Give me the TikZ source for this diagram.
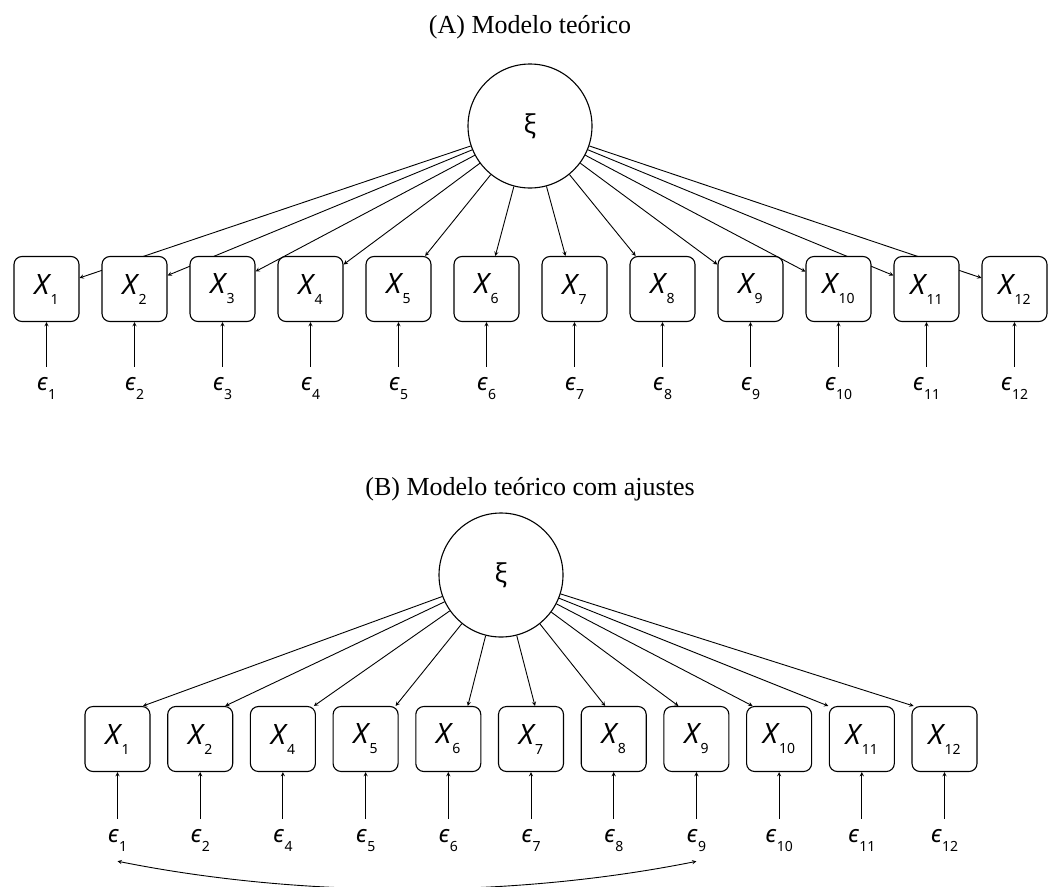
\documentclass[tikz,border=0pt]{standalone}
\usepackage{fontspec}
\setmainfont{Liberation Serif}
\newfontfamily\semfont{Noto Sans}
\usetikzlibrary{backgrounds}
\newcommand{\obsvar}[1]{{\semfont\fontsize{28}{30}\selectfont\itshape X\kern1.5pt\raisebox{-10pt}{\upshape\fontsize{14}{16}\selectfont #1}}}
\newcommand{\errvar}[1]{{\semfont\fontsize{24}{26}\selectfont\itshape ϵ\kern0.5pt\raisebox{-9pt}{\upshape\fontsize{14}{16}\selectfont #1}}}
\begin{document}
\begin{tikzpicture}[x=1pt,y=-1pt,>=stealth]
\tikzstyle{latent} = [circle, draw, line width=1.1pt, minimum size=124pt, inner sep=0pt, fill=white]
\tikzstyle{obs} = [rectangle, rounded corners=8pt, draw, line width=1.1pt, minimum width=65pt, minimum height=65pt, inner sep=0pt, fill=white]
\tikzstyle{err} = [inner xsep=1pt, inner ysep=10pt, anchor=base]
\tikzstyle{title} = [font=\fontsize{26}{30}\selectfont, anchor=base]
\tikzstyle{load} = [->, line width=0.9pt]
\useasboundingbox (0,0) rectangle (1054,886);
\clip (0,0) rectangle (1054,886);
% (A) modelo teorico
\node (titA)[title] at (530,33) {(A) Modelo teórico};
\node (xiA)[latent] at (530,126) {\semfont\fontsize{26}{28}\selectfont ξ};
\foreach \i in {1,...,12} {
  \node (A\i)[obs] at ({46.5+88*(\i-1)},289) {\obsvar{\i}};
  \node (eA\i)[err] at ({46.5+88*(\i-1)},390) {\errvar{\i}};
  \draw [load] (eA\i) -- (A\i);
}
\begin{pgfonlayer}{background}
\foreach \i in {1,...,12} \draw [load] (xiA) -- (A\i);
\end{pgfonlayer}
% (B) com ajustes
\node (titB)[title] at (530,495) {(B) Modelo teórico com ajustes};
\node (xiB)[latent] at (501,575) {\semfont\fontsize{26}{28}\selectfont ξ};
\foreach \i/\d [count=\k from 0] in {1/25.5,2/25,4/31,5/30,6/19.5,7/4,8/-8.5,9/-18,10/-26.5,11/-33.5,12/-31} {
  \node (B\i)[obs] at ({117.5+82.7*\k},739) {\obsvar{\i}};
  \node (eB\i)[err] at ({117.5+82.7*\k},842) {\errvar{\i}};
  \draw [load] (eB\i) -- (B\i);
  \draw [load] (xiB) -- ([xshift=\d pt]B\i.north);
}
\draw [<->, line width=0.9pt] (eB1.south) .. controls +(185,37) and +(-185,37) .. (eB9.south);
\end{tikzpicture}
\end{document}
